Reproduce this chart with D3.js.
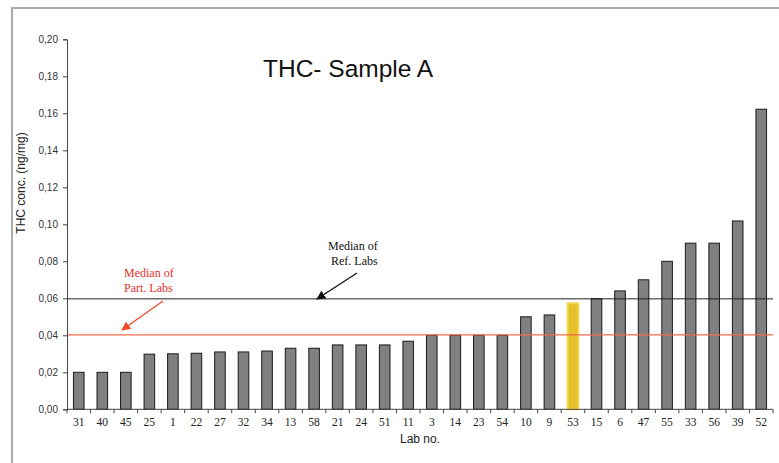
<!DOCTYPE html>
<html><head><meta charset="utf-8">
<script src="https://cdn.jsdelivr.net/npm/d3@7"></script>
<style>body{margin:0;background:#fff}svg{display:block}</style>
</head><body>
<script>
const labs = ["31","40","45","25","1","22","27","32","34","13","58","21","24","51","11","3","14","23","54","10","9","53","15","6","47","55","33","56","39","52"];
const values = [0.020,0.020,0.020,0.0298,0.0300,0.0303,0.0310,0.0310,0.0315,0.0330,0.0330,0.0348,0.0348,0.0348,0.0368,0.0400,0.0400,0.0400,0.0400,0.0500,0.0510,0.0573,0.0598,0.0640,0.0700,0.0800,0.0898,0.0898,0.1018,0.1622];
const highlighted = ["53"];
const yTicks = [0,0.02,0.04,0.06,0.08,0.10,0.12,0.14,0.16,0.18,0.20];
const medianRef = 0.0597;
const medianPart = 0.0402;

const W = 779, H = 463;
const svg = d3.select("body").append("svg").attr("width", W).attr("height", H);

// outer frame
svg.append("rect").attr("x",12).attr("y",8).attr("width",800).attr("height",500)
  .attr("fill","none").attr("stroke","#aaaaaa").attr("stroke-width",2);

const x0 = 67, x1 = 773, yTop = 39.3, yBot = 409.3;
const x = d3.scaleBand().domain(labs).range([x0, x1]).paddingInner(0.55).paddingOuter(0.275);
const xb = d3.scaleBand().domain(labs).range([x0, x1]);
const y = d3.scaleLinear().domain([0, 0.20]).range([yBot, yTop]);

// title
svg.append("text").attr("x",263).attr("y",77).attr("font-family","Liberation Sans, Arial, sans-serif")
  .attr("font-size",24.5).attr("fill","#111").text("THC- Sample A");

// bars
svg.append("g").selectAll("rect").data(labs).join("rect")
  .attr("x", d => x(d)).attr("width", x.bandwidth())
  .attr("y", (d,i) => y(values[i])).attr("height", (d,i) => yBot - y(values[i]))
  .attr("fill", d => highlighted.includes(d) ? "#e6c02c" : "#808080")
  .attr("stroke", d => highlighted.includes(d) ? "#f3d54a" : "#1a1a1a")
  .attr("stroke-width", d => highlighted.includes(d) ? 2 : 1);

// median lines
svg.append("line").attr("x1",x0).attr("x2",x1).attr("y1",y(medianRef)).attr("y2",y(medianRef))
  .attr("stroke","#222").attr("stroke-width",1);
svg.append("line").attr("x1",x0).attr("x2",x1).attr("y1",y(medianPart)).attr("y2",y(medianPart))
  .attr("stroke","#f26a48").attr("stroke-width",1.2);

// y axis
const yAxis = d3.axisLeft(y).tickValues(yTicks).tickSize(4).tickPadding(5)
  .tickFormat(d => d3.format(".2f")(d).replace(".", ","));
const gy = svg.append("g").attr("transform",`translate(${x0},0)`).call(yAxis);
gy.select(".domain").attr("stroke","#444");
gy.selectAll(".tick line").attr("stroke","#444");
gy.selectAll("text").attr("font-family","Liberation Sans, Arial, sans-serif").attr("font-size",10).attr("fill","#333");

// x axis
const xAxis = d3.axisBottom(x).tickSize(0).tickPadding(9);
const gx = svg.append("g").attr("transform",`translate(0,${yBot})`).call(xAxis);
gx.select(".domain").attr("stroke","#444").attr("d",`M${x0},0H${x1}`);
gx.selectAll("text").attr("font-family","Liberation Serif, Times New Roman, serif").attr("font-size",11.5).attr("fill","#222");
// separator ticks between categories
gx.append("g").selectAll("line").data(labs.concat(["_end"])).join("line")
  .attr("x1",(d,i) => x0 + i*xb.step()).attr("x2",(d,i) => x0 + i*xb.step())
  .attr("y1",0).attr("y2",4).attr("stroke","#444");

// axis titles
svg.append("text").attr("transform","translate(25,183) rotate(-90)").attr("text-anchor","middle")
  .attr("font-family","Liberation Sans, Arial, sans-serif").attr("font-size",12).attr("fill","#222")
  .text("THC conc. (ng/mg)");
svg.append("text").attr("x",(x0+x1)/2).attr("y",443).attr("text-anchor","middle")
  .attr("font-family","Liberation Sans, Arial, sans-serif").attr("font-size",12).attr("fill","#222")
  .text("Lab no.");

// annotations
const defs = svg.append("defs");
function marker(id, color){
  defs.append("marker").attr("id",id).attr("viewBox","0 0 10 10").attr("refX",9).attr("refY",5)
    .attr("markerWidth",7).attr("markerHeight",7).attr("orient","auto")
    .append("path").attr("d","M0,0L10,5L0,10z").attr("fill",color);
}
marker("arrB","#111"); marker("arrR","#f04a2a");

const ann = svg.append("g").attr("font-family","Liberation Serif, Times New Roman, serif").attr("font-size",12);
ann.append("text").attr("x",328).attr("y",250).attr("fill","#111").text("Median of");
ann.append("text").attr("x",331).attr("y",265).attr("fill","#111").text("Ref. Labs");
svg.append("line").attr("x1",357).attr("y1",273).attr("x2",317).attr("y2",299)
  .attr("stroke","#111").attr("stroke-width",1.3).attr("marker-end","url(#arrB)");

ann.append("text").attr("x",124).attr("y",277).attr("fill","#e0302a").text("Median of");
ann.append("text").attr("x",124).attr("y",292).attr("fill","#e0302a").text("Part. Labs");
svg.append("line").attr("x1",163).attr("y1",301).attr("x2",122).attr("y2",330)
  .attr("stroke","#f04a2a").attr("stroke-width",1.3).attr("marker-end","url(#arrR)");
</script>
</body></html>
